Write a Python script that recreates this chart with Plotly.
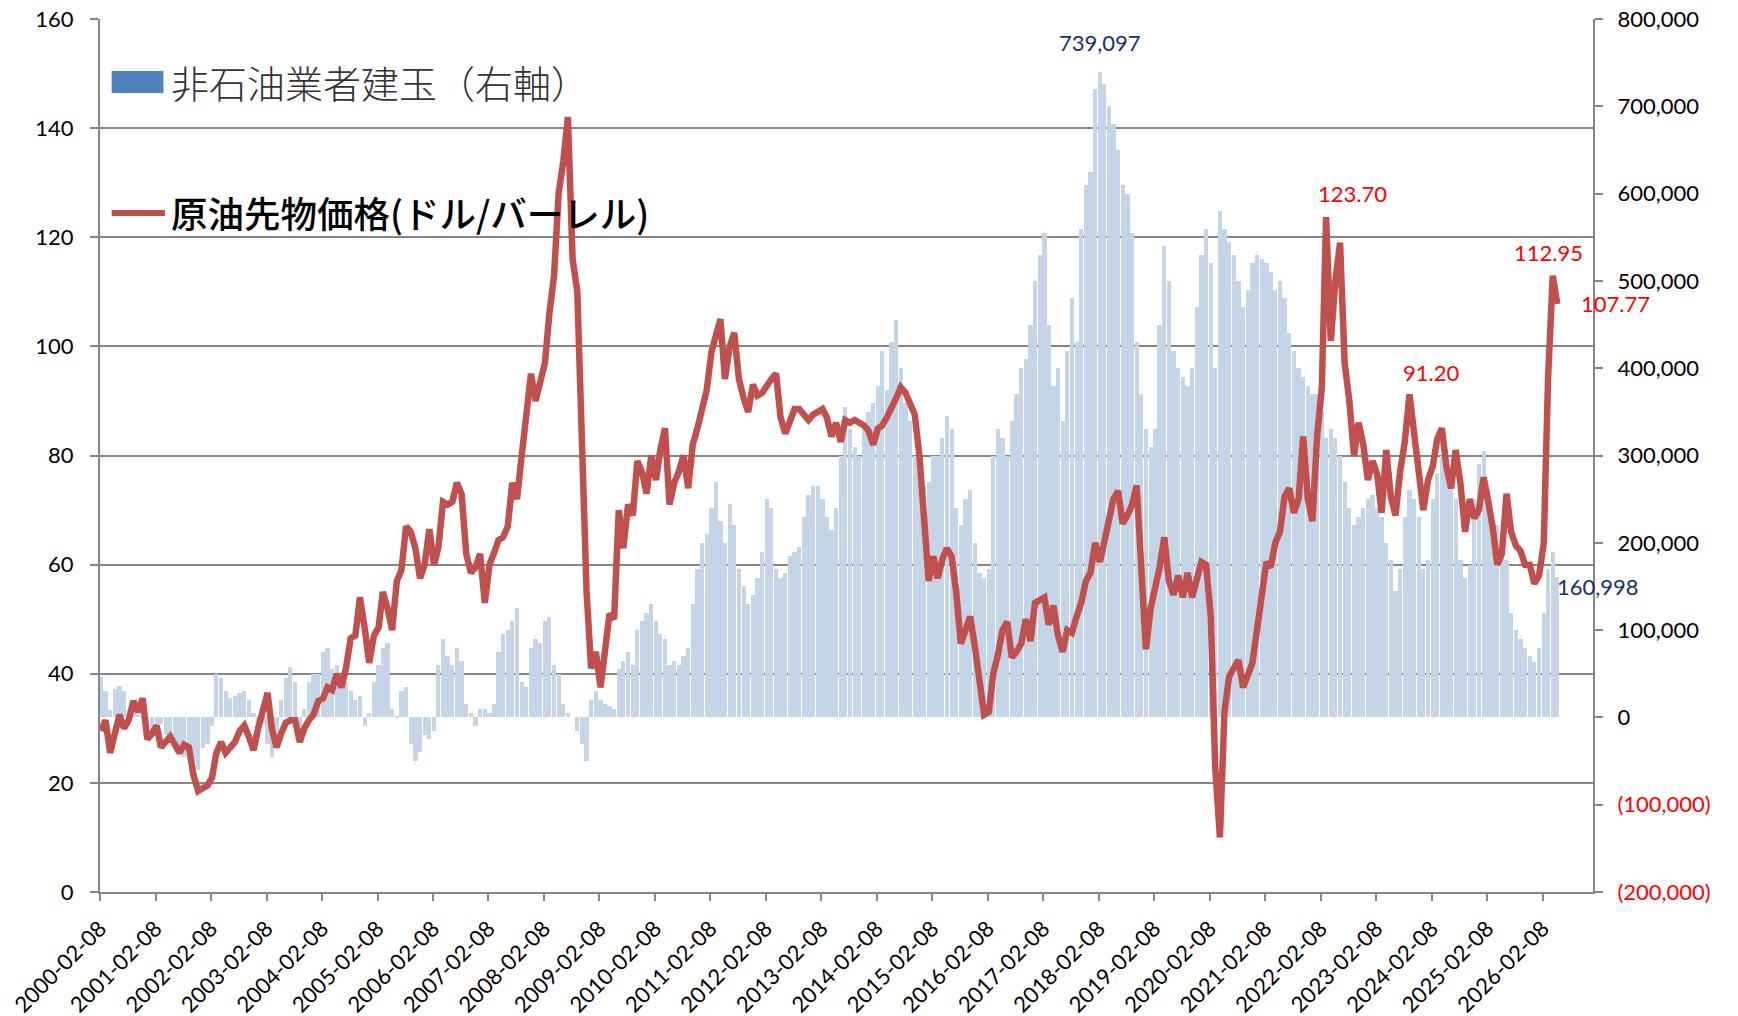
import pandas as pd
import plotly.graph_objects as go

# WTI futures price (USD/bbl), monthly, 2000-02 .. 2026-05
oil_price = [
    29.5, 31.5, 25.5, 29.5, 32.5, 30.0, 31.5, 35.0, 33.0, 35.5, 28.0,
    29.0, 30.5, 26.5, 27.5, 28.5, 27.0, 25.5, 27.0, 26.5, 21.5, 18.5, 19.0,
    19.5, 21.0, 25.5, 27.5, 25.5, 26.5, 27.5, 29.5, 30.5, 28.5, 26.0, 30.0,
    33.5, 36.5, 30.0, 26.5, 29.0, 31.0, 31.5, 31.5, 27.5, 30.0, 31.5, 32.5,
    35.0, 35.5, 37.5, 37.0, 40.0, 37.5, 41.0, 46.5, 47.0, 54.0, 48.5, 42.0,
    47.0, 48.5, 55.0, 52.0, 48.0, 57.0, 59.0, 67.0, 66.0, 63.0, 57.5, 60.0,
    66.5, 60.0, 63.0, 71.5, 71.0, 71.5, 75.0, 73.0, 62.0, 58.5, 59.5, 62.0,
    53.0, 60.0, 62.0, 64.5, 65.0, 67.0, 75.0, 72.0, 80.0, 88.0, 95.0, 90.0,
    93.0, 97.0, 106.0, 113.0, 128.0, 134.0, 142.0, 116.0, 110.0, 80.0, 55.0, 41.0,
    44.0, 37.5, 45.0, 51.0, 50.0, 70.0, 63.0, 71.0, 69.0, 79.0, 77.0, 73.0,
    80.0, 75.5, 81.0, 85.0, 71.0, 75.0, 77.0, 80.0, 74.0, 82.0, 85.0, 89.0,
    92.0, 99.0, 102.0, 105.0, 94.0, 100.0, 102.5, 94.0, 90.5, 88.0, 93.0, 91.0,
    91.5, 93.0, 94.0, 95.0, 87.0, 84.0, 86.0, 88.5, 88.5, 87.5, 86.5, 87.5,
    88.0, 88.5, 87.0, 83.5, 86.0, 82.5, 86.5, 86.0, 86.5, 86.0, 85.5, 84.5,
    82.0, 85.0, 85.5, 87.0, 88.5, 90.5, 92.5, 91.5, 89.5, 87.5, 80.0, 70.0,
    57.0, 61.5, 57.5, 61.0, 63.0, 61.5, 55.0, 45.5, 48.5, 50.5, 45.0, 39.5,
    32.5, 33.0, 40.0, 43.5, 48.0, 49.5, 43.0, 44.0, 45.5, 50.0, 46.0, 53.0,
    53.5, 54.0, 49.0, 52.5, 47.0, 44.0, 48.0, 47.5, 50.5, 53.0, 57.0, 58.5,
    64.0, 60.5, 64.0, 68.0, 72.0, 73.5, 67.5, 69.0, 71.0, 74.5, 57.0, 44.5,
    52.0, 55.5, 59.5, 65.0, 57.0, 54.5, 58.0, 54.0, 58.5, 54.0, 57.5, 60.5,
    60.0, 50.5, 23.0, 10.0, 33.0, 39.5, 41.0, 42.5, 37.5, 39.5, 42.0, 48.0,
    54.0, 60.5, 59.5, 64.0, 66.0, 72.5, 74.0, 69.5, 72.0, 83.5, 72.0, 68.0,
    83.5, 92.5, 123.70, 101.0, 112.0, 119.0, 97.0, 90.0, 80.0, 86.0, 82.0, 75.5,
    79.0, 76.5, 69.5, 81.0, 72.5, 69.0, 77.0, 82.5, 91.20, 85.0, 77.0, 70.0,
    75.5, 78.0, 83.0, 85.0, 78.0, 74.0, 81.0, 75.0, 66.0, 72.0, 68.5, 70.0,
    76.0, 71.5, 67.0, 60.0, 62.0, 73.0, 66.0, 63.5, 62.5, 60.0, 60.0, 56.5,
    58.0, 64.0, 94.0, 112.95, 107.77,
]

# non-commercial open interest (thousand contracts), same months
nonoil_oi = [
    46, 30, 8, 33, 36, 30, 8, 5, 3, 2, -5,
    -20, -15, -8, -20, -28, -30, -40, -45, -35, -50, -60, -35,
    -30, -10, 50, 45, 30, 22, 25, 28, 30, 20, 5, -5,
    -8, -30, -45, -20, 20, 45, 58, 40, -20, 10, 40, 50,
    50, 75, 80, 55, 60, 45, 40, 30, 20, 25, -10, 5,
    40, 60, 80, 85, 10, 2, 30, 35, -30, -50, -40, -20,
    -25, -15, 60, 90, 70, 60, 80, 65, 15, 5, -10, 10,
    10, 5, 15, 75, 95, 100, 110, 125, 40, 35, 80, 90,
    85, 110, 115, 60, 50, 15, 5, 0, -15, -30, -50, 20,
    30, 20, 15, 13, 10, 55, 65, 75, 60, 100, 110, 120,
    130, 110, 95, 90, 60, 65, 60, 70, 80, 130, 170, 200,
    210, 240, 270, 225, 200, 245, 220, 170, 150, 130, 140, 160,
    190, 250, 240, 170, 160, 165, 185, 190, 195, 230, 255, 265,
    265, 250, 230, 215, 240, 300, 355, 330, 310, 300, 330, 350,
    360, 380, 420, 375, 430, 455, 400, 360, 340, 300, 280, 265,
    270, 300, 300, 320, 345, 330, 240, 220, 250, 260, 200, 165,
    160, 170, 300, 330, 320, 300, 340, 370, 400, 410, 450, 500,
    530, 555, 450, 380, 400, 340, 420, 480, 430, 560, 610, 625,
    720, 739.097, 725, 700, 680, 650, 610, 600, 555, 430, 370, 330,
    310, 330, 450, 540, 500, 420, 400, 390, 380, 400, 470, 530,
    560, 520, 400, 580, 560, 545, 530, 500, 470, 490, 520, 530,
    525, 520, 510, 490, 500, 480, 440, 420, 400, 390, 380, 370,
    370, 350, 320, 330, 320, 300, 270, 240, 220, 230, 240, 250,
    255, 240, 230, 200, 180, 145, 170, 230, 260, 250, 230, 170,
    180, 250, 280, 300, 290, 270, 250, 180, 160, 175, 250, 290,
    305, 260, 210, 220, 205, 180, 120, 100, 90, 80, 70, 63,
    80, 120, 170, 190, 160.998,
]

dates = pd.date_range("2000-02-01", periods=len(oil_price), freq="MS") + pd.Timedelta(days=14)
oi = [round(v * 1000) for v in nonoil_oi]

right_ticks = list(range(-200000, 800001, 100000))
right_text = [f"{v:,}" if v >= 0 else f'<span style="color:#ff0000">({-v:,})</span>' for v in right_ticks]

GRID = "#868686"
RED = "#c0504d"
NAVY = "#13306b"
TICKFONT = dict(family="Lato, Arial", size=22, color="black")

fig = go.Figure()

fig.add_trace(go.Bar(
    x=dates, y=oi, yaxis="y",
    marker=dict(color="#c5d5e8", line_width=0),
    width=28 * 86400000, showlegend=False,
))
fig.add_trace(go.Scatter(
    x=dates, y=oil_price, yaxis="y2", mode="lines",
    line=dict(color=RED, width=6.5), showlegend=False,
))

# the page body adds an 8px offset, so margins are trimmed by that much on the top/left
fig.update_layout(
    width=1738, height=1016,
    margin=dict(l=92, r=153, t=11, b=132),
    paper_bgcolor="white", plot_bgcolor="white",
    bargap=0,
    xaxis=dict(
        type="date", range=["2000-02-08", "2027-01-05"], automargin=False,
        tick0="2000-02-08", dtick="M12", tickformat="%Y-%m-%d", tickangle=-45,
        showgrid=False, showline=True, linecolor=GRID, linewidth=2,
        ticks="outside", ticklen=7, tickcolor=GRID, tickwidth=2,
        ticklabelstandoff=6, ticklabeloverflow="allow", tickfont=dict(TICKFONT, size=22),
    ),
    yaxis=dict(
        side="right", range=[-200000, 800000], automargin=False,
        tickvals=right_ticks, ticktext=right_text,
        showgrid=False, zeroline=False, showline=True, linecolor=GRID, linewidth=2,
        ticks="outside", ticklen=8, tickcolor=GRID, tickwidth=2,
        ticklabelstandoff=10, ticklabeloverflow="allow", tickfont=TICKFONT,
    ),
    yaxis2=dict(
        overlaying="y", side="left", range=[0, 160], dtick=20, automargin=False,
        showgrid=True, gridcolor=GRID, gridwidth=2, zeroline=False,
        showline=True, linecolor=GRID, linewidth=2,
        ticks="outside", ticklen=8, tickcolor=GRID, tickwidth=2,
        ticklabelstandoff=12, ticklabeloverflow="allow", tickfont=TICKFONT,
    ),
)

# legend drawn by hand (wide swatches, large text)
fig.add_shape(type="rect", xref="paper", yref="paper",
              x0=0.0078, x1=0.0425, y0=0.9152, y1=0.9404,
              fillcolor="#4f81bd", line_width=0)
fig.add_shape(type="line", xref="paper", yref="paper",
              x0=0.0078, x1=0.0435, y0=0.7778, y1=0.7778,
              line=dict(color=RED, width=6))
fig.add_annotation(xref="paper", yref="paper", x=0.0465, y=0.928,
                   text="非石油業者建玉（右軸）", showarrow=False,
                   xanchor="left", yanchor="middle",
                   font=dict(family="Noto Sans CJK JP", size=38, color="#333333", weight=300))
fig.add_annotation(xref="paper", yref="paper", x=0.0465, y=0.7778,
                   text="原油先物価格(ドル/バーレル)", showarrow=False,
                   xanchor="left", yanchor="middle",
                   font=dict(family="Noto Sans CJK JP", size=36.5, color="black", weight=500))

# value labels
LABELFONT = dict(family="Lato, Arial", size=22)
i_top = nonoil_oi.index(max(nonoil_oi))
fig.add_annotation(x=dates[i_top], y=oi[i_top], yref="y", text=f"{oi[i_top]:,}",
                   showarrow=False, yanchor="bottom", yshift=14,
                   font=dict(LABELFONT, color=NAVY))
fig.add_annotation(x=dates[-1], y=oi[-1], yref="y", text=f"{oi[-1]:,}",
                   showarrow=False, xanchor="left", yanchor="middle", yshift=-10, xshift=-2,
                   font=dict(LABELFONT, color=NAVY))

for val, xa, xs, ys in [(123.70, "left", -10, 8), (91.20, "left", -8, 6), (112.95, "center", -4, 8)]:
    i = oil_price.index(val)
    fig.add_annotation(x=dates[i], y=val, yref="y2", text=f"{val:.2f}",
                       showarrow=False, xanchor=xa, yanchor="bottom", xshift=xs, yshift=ys,
                       font=dict(LABELFONT, color="#ff0000"))
fig.add_annotation(x=dates[-1], y=oil_price[-1], yref="y2", text=f"{oil_price[-1]:.2f}",
                   showarrow=False, xanchor="left", yanchor="middle", xshift=22,
                   font=dict(LABELFONT, color="#ff0000"))

fig.write_html("out.html")
